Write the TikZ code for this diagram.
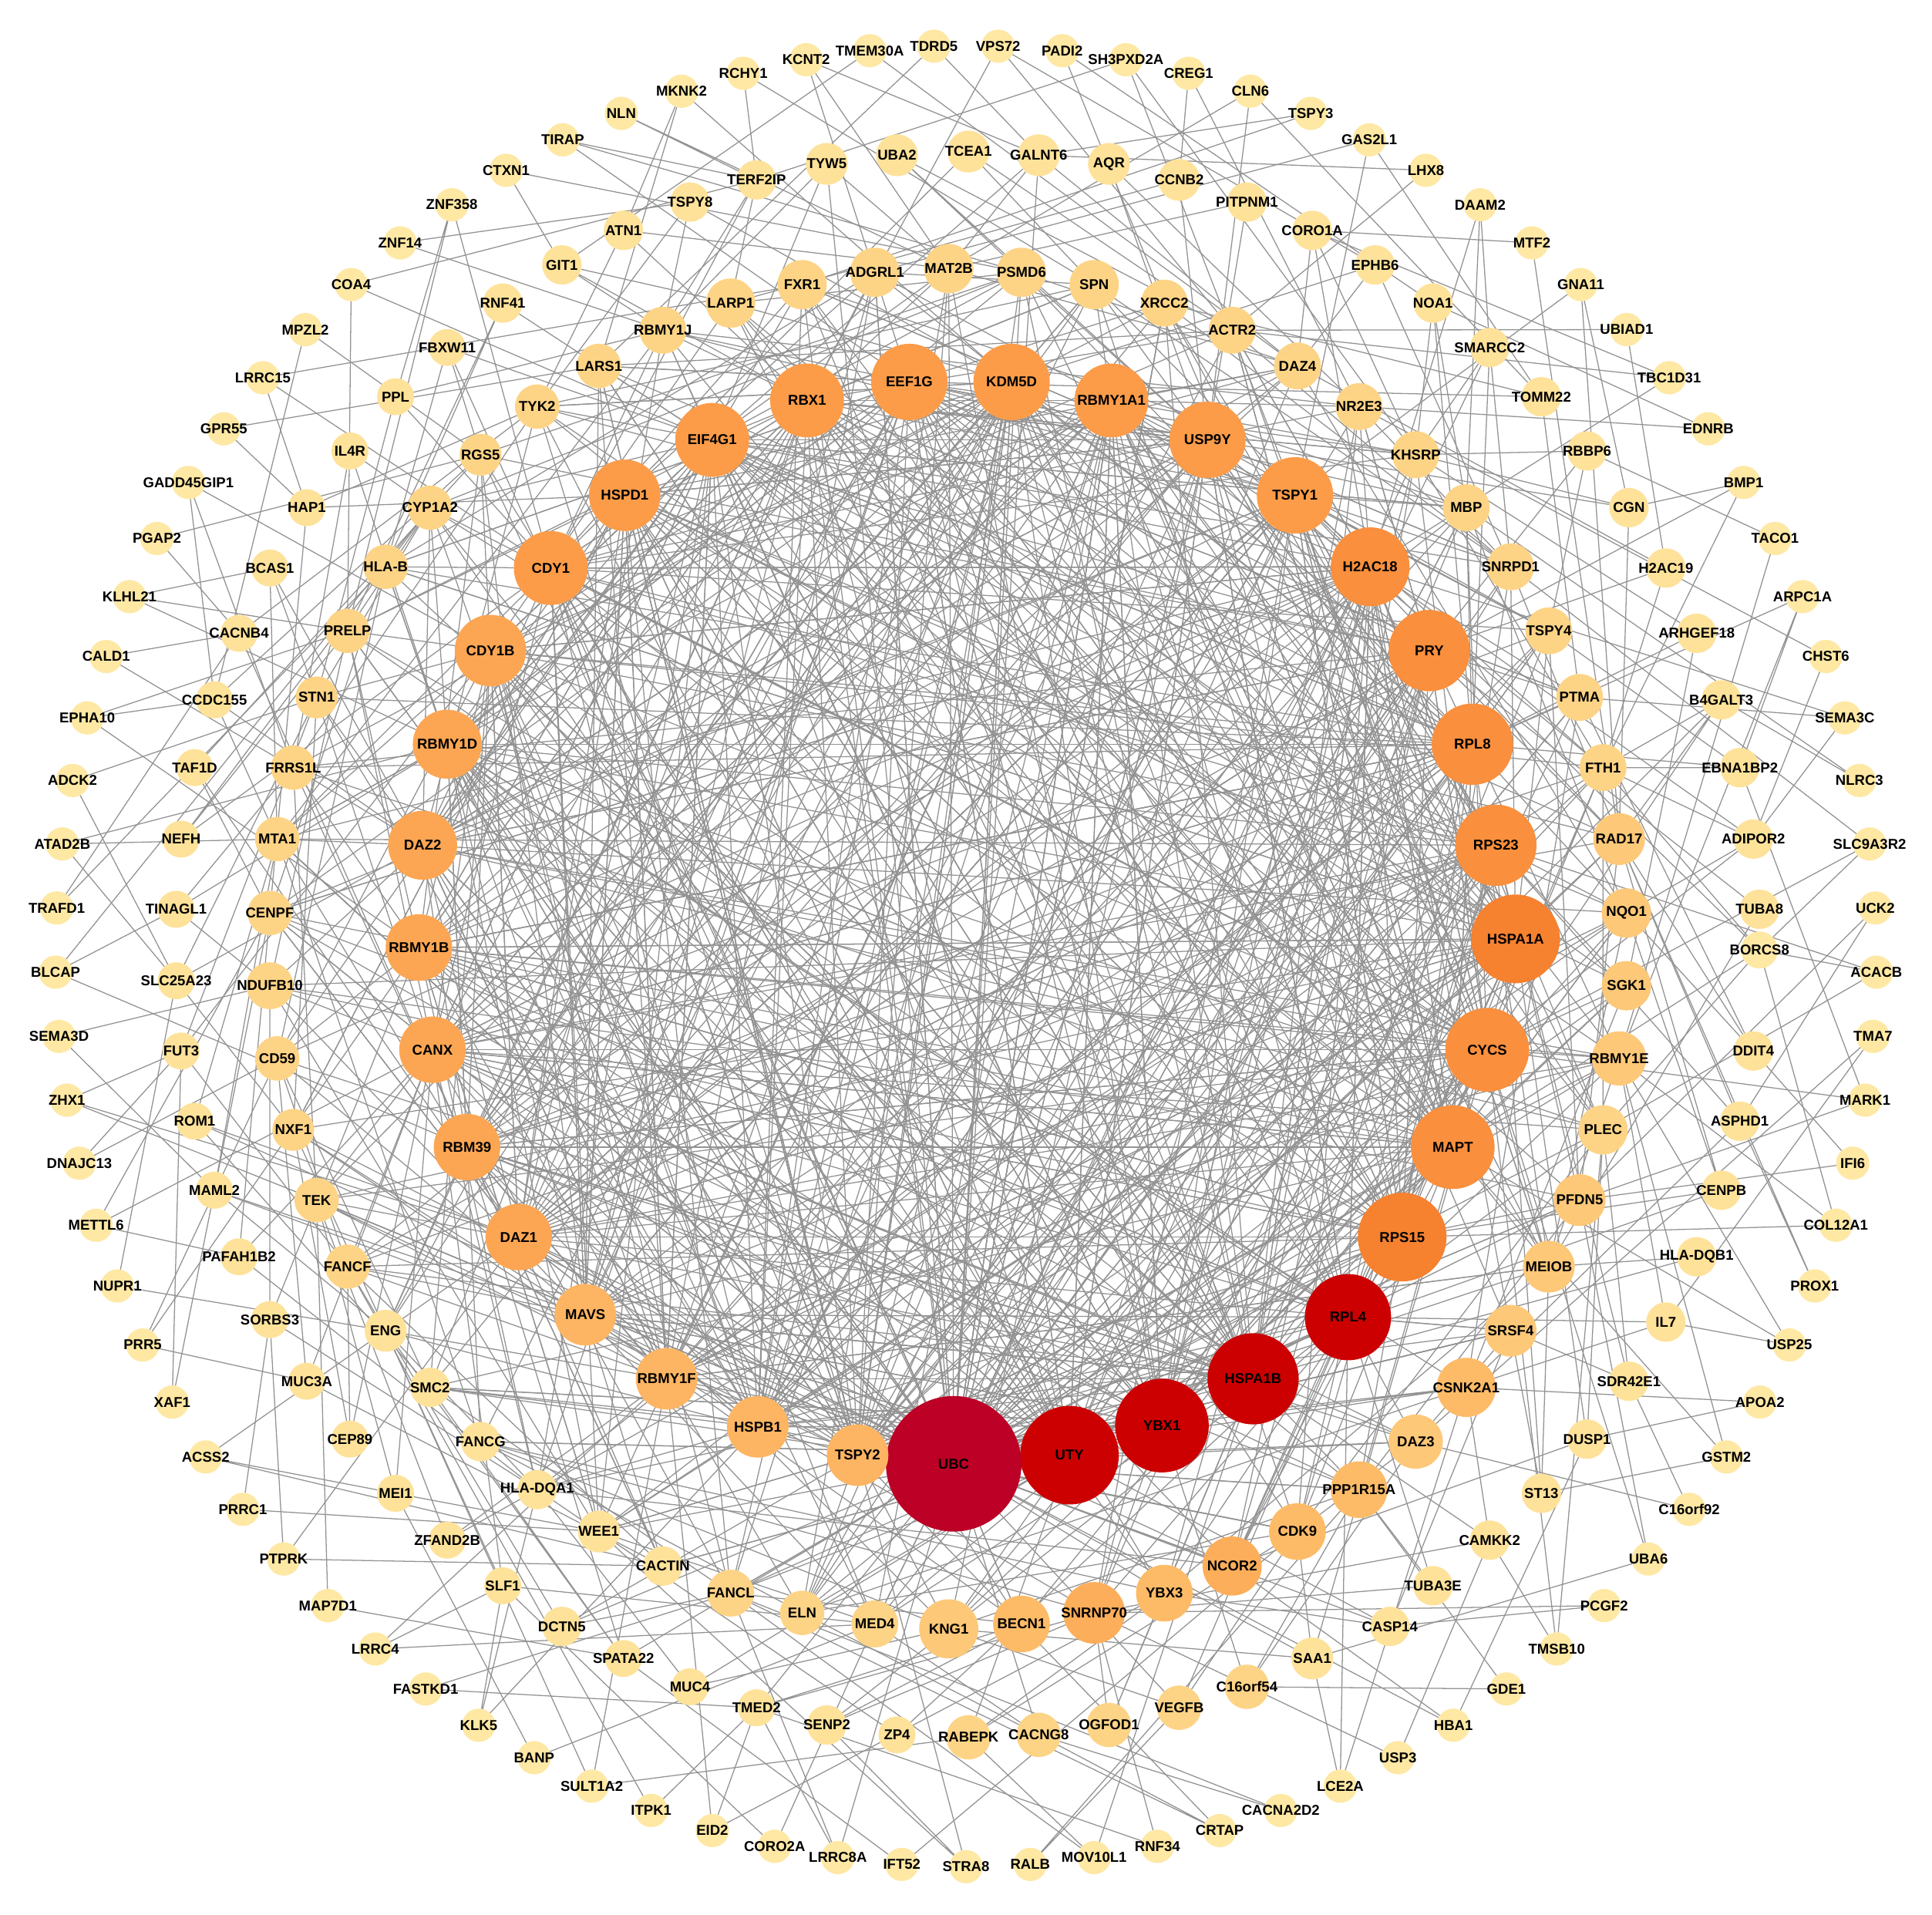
\documentclass[tikz,border=0pt]{standalone}
\usepackage{fontspec}
\setmainfont{Liberation Sans}
\pgfdeclarelayer{back}
\pgfdeclarelayer{bg}
\pgfsetlayers{back,bg,main}
\definecolor{cO}{HTML}{FEE8A4}
\definecolor{cS}{HTML}{FEE29A}
\definecolor{cT}{HTML}{FDD486}
\definecolor{cT2}{HTML}{FDC878}
\definecolor{cT3}{HTML}{FDBB68}
\definecolor{cT4}{HTML}{FDAE5A}
\definecolor{cI1}{HTML}{FDB563}
\definecolor{cI2}{HTML}{FCA653}
\definecolor{cI3}{HTML}{FC9C49}
\definecolor{cI4}{HTML}{FA8F3D}
\definecolor{cI5}{HTML}{F6812F}
\definecolor{cR}{HTML}{CC0000}
\definecolor{cU}{HTML}{BC0026}
\definecolor{edgec}{HTML}{939393}
\newcommand\labfont{\fontsize{5.8pt}{6pt}\selectfont\bfseries}
\tikzset{
  nd/.style={circle, inner sep=0pt, outer sep=0pt, text=black, font=\labfont},
  onode/.style={nd, fill=cO, minimum size=13.5pt},
  lnk/.style={draw=edgec, line width=0.4pt},
}
\begin{document}
\begin{tikzpicture}[x=0.5pt,y=-0.5pt]
\useasboundingbox (0,0) rectangle (1568,1554);
\begin{pgfonlayer}{back}
\fill[white] (0,0) rectangle (1568,1554);
\end{pgfonlayer}
% outer ring
\foreach \lab [count=\k from 0] in {TDRD5,VPS72,PADI2,SH3PXD2A,CREG1,CLN6,TSPY3,GAS2L1,LHX8,DAAM2,MTF2,GNA11,UBIAD1,TBC1D31,EDNRB,BMP1,TACO1,ARPC1A,CHST6,SEMA3C,NLRC3,SLC9A3R2,UCK2,ACACB,TMA7,MARK1,IFI6,COL12A1,PROX1,USP25,APOA2,GSTM2,C16orf92,UBA6,PCGF2,TMSB10,GDE1,HBA1,USP3,LCE2A,CACNA2D2,CRTAP,RNF34,MOV10L1,RALB,STRA8,IFT52,LRRC8A,CORO2A,EID2,ITPK1,SULT1A2,BANP,KLK5,FASTKD1,LRRC4,MAP7D1,PTPRK,PRRC1,ACSS2,XAF1,PRR5,NUPR1,METTL6,DNAJC13,ZHX1,SEMA3D,BLCAP,TRAFD1,ATAD2B,ADCK2,EPHA10,CALD1,KLHL21,PGAP2,GADD45GIP1,GPR55,LRRC15,MPZL2,COA4,ZNF14,ZNF358,CTXN1,TIRAP,NLN,MKNK2,RCHY1,KCNT2,TMEM30A}{
  \pgfmathsetmacro\ang{(\k-0.5)*4.044944}
  \node[onode] (o\k) at ({784+739*sin(\ang)},{776-739*cos(\ang)}) {\makebox[0pt]{\lab}};
}
% second ring
\foreach \lab/\x/\y/\r/\cc [count=\k from 0] in {TCEA1/786/123/17/cS,GALNT6/843/126/17/cS,AQR/900/133/17/cS,CCNB2/957/146/17/cS,PITPNM1/1012/164/16/cS,CORO1A/1065/187/16/cS,EPHB6/1116/215/16/cS,NOA1/1163/246/16/cS,SMARCC2/1209/282/16/cS,TOMM22/1251/322/16/cS,RBBP6/1288/366/16/cS,CGN/1322/412/16/cS,H2AC19/1352/461/16/cS,ARHGEF18/1377/514/16/cS,B4GALT3/1397/568/16/cS,EBNA1BP2/1412/623/16/cS,ADIPOR2/1423/681/16/cS,TUBA8/1428/738/16/cS,BORCS8/1428/771/15/cO,DDIT4/1423/853/16/cS,ASPHD1/1412/910/16/cS,CENPB/1397/966/16/cS,HLA-DQB1/1377/1020/16/cS,IL7/1352/1073/16/cS,SDR42E1/1322/1121/16/cS,DUSP1/1288/1168/16/cS,ST13/1251/1212/16/cS,CAMKK2/1209/1250/16/cS,TUBA3E/1163/1287/16/cS,CASP14/1128/1320/16/cS,SAA1/1065/1346/17/cS,C16orf54/1012/1369/18/cT,VEGFB/957/1386/18/cT,OGFOD1/900/1400/18/cT,CACNG8/843/1408/18/cT,RABEPK/786/1410/18/cT,ZP4/728/1408/15/cS,SENP2/671/1400/16/cS,TMED2/614/1386/15/cS,MUC4/560/1369/15/cS,SPATA22/506/1346/15/cS,DCTN5/456/1320/16/cS,SLF1/408/1287/15/cS,ZFAND2B/363/1250/15/cS,MEI1/321/1212/15/cS,CEP89/284/1168/15/cS,MUC3A/249/1121/15/cS,SORBS3/219/1071/15/cS,PAFAH1B2/194/1020/15/cS,MAML2/174/966/15/cS,ROM1/158/910/15/cS,FUT3/147/853/15/cS,SLC25A23/143/796/15/cS,TINAGL1/143/738/15/cS,NEFH/147/681/15/cS,TAF1D/158/623/15/cS,CCDC155/174/568/15/cS,CACNB4/194/514/15/cS,BCAS1/219/461/15/cS,HAP1/249/412/15/cS,IL4R/284/366/15/cS,PPL/321/322/15/cS,FBXW11/363/282/15/cS,RNF41/408/246/16/cS,GIT1/456/215/16/cS,ATN1/506/187/16/cS,TSPY8/560/164/16/cS,TERF2IP/614/146/16/cS,TYW5/671/133/17/cS,UBA2/728/126/17/cS}{
  \node[nd, fill=\cc, minimum size={\r*1pt}] (s\k) at (\x,\y) {\makebox[0pt]{\lab}};
}
% third ring
\foreach \lab/\x/\y/\r/\cc [count=\k from 0] in {MAT2B/770/218/20/cT,PSMD6/829/221/20/cT,SPN/888/231/20/cT,XRCC2/945/246/19/cT,ACTR2/1000/268/19/cT,DAZ4/1053/297/19/cT,NR2E3/1103/330/19/cT,KHSRP/1149/369/19/cT,MBP/1190/412/19/cT,SNRPD1/1226/460/19/cT,TSPY4/1257/512/19/cT,PTMA/1282/566/19/cT,FTH1/1301/623/19/cT,RAD17/1314/681/21/cT2,NQO1/1320/741/20/cT2,SGK1/1320/800/20/cT2,RBMY1E/1314/859/22/cT2,PLEC/1301/917/20/cT,PFDN5/1282/974/21/cT2,MEIOB/1257/1028/21/cT2,SRSF4/1226/1080/21/cT2,CSNK2A1/1190/1126/24/cT3,DAZ3/1149/1170/22/cT2,PPP1R15A/1103/1209/23/cT3,CDK9/1053/1243/23/cT3,NCOR2/1000/1271/24/cT4,YBX3/945/1293/23/cT3,SNRNP70/888/1309/25/cT4,BECN1/829/1318/23/cT3,KNG1/770/1322/24/cT2,MED4/710/1318/19/cT,ELN/651/1309/18/cT,FANCL/593/1293/19/cT,CACTIN/538/1271/16/cS,WEE1/486/1243/17/cS,HLA-DQA1/436/1209/16/cS,FANCG/390/1170/16/cS,SMC2/349/1126/16/cS,ENG/313/1080/17/cS,FANCF/282/1028/18/cT,TEK/257/974/18/cT,NXF1/238/917/17/cT,CD59/225/859/18/cT,NDUFB10/219/800/19/cT,CENPF/219/741/18/cT,MTA1/225/681/18/cT,FRRS1L/238/623/18/cT,STN1/257/566/17/cT,PRELP/282/512/18/cT,HLA-B/313/460/18/cT,CYP1A2/349/412/18/cT,RGS5/390/369/17/cT,TYK2/436/330/18/cT,LARS1/486/297/18/cT,RBMY1J/538/268/19/cT,LARP1/593/246/20/cT,FXR1/651/231/20/cT,ADGRL1/710/221/20/cT}{
  \node[nd, fill=\cc, minimum size={\r*1pt}] (t\k) at (\x,\y) {\makebox[0pt]{\lab}};
}
% inner ring
\foreach \lab/\x/\y/\r/\cc [count=\k from 0] in {EEF1G/738/310/31/cI3,KDM5D/821/310/31/cI3,RBMY1A1/902/325/30/cI3,USP9Y/980/357/31/cI3,TSPY1/1051/402/31/cI3,H2AC18/1112/460/32/cI4,PRY/1160/528/33/cI4,RPL8/1195/604/33/cI4,RPS23/1214/686/33/cI4,HSPA1A/1230/762/36/cI5,CYCS/1207/852/34/cI4,MAPT/1179/931/34/cI4,RPS15/1138/1004/36/cI5,RPL4/1094/1069/35/cR,HSPA1B/1017/1119/37/cR,YBX1/943/1157/38/cR,UTY/868/1181/40/cR,UBC/774/1188/55/cU,TSPY2/696/1181/25/cI1,HSPB1/615/1158/25/cI1,RBMY1F/541/1119/25/cI1,MAVS/475/1067/25/cI1,DAZ1/421/1004/27/cI2,RBM39/379/931/27/cI2,CANX/351/852/27/cI2,RBMY1B/340/769/27/cI2,DAZ2/343/686/28/cI2,RBMY1D/363/604/28/cI2,CDY1B/398/528/29/cI2,CDY1/447/461/30/cI3,HSPD1/507/402/29/cI3,EIF4G1/578/357/30/cI3,RBX1/655/325/30/cI3}{
  \node[nd, fill=\cc, minimum size={\r*1pt}] (i\k) at (\x,\y) {\makebox[0pt]{\lab}};
}
% connectors
\begin{pgfonlayer}{bg}
\pgfmathsetseed{12345}
\foreach \k in {0,...,88}{
  \pgfmathtruncatemacro\ea{mod(round(\k*70/89)+random(0,10)-5+70,70)}
  \pgfmathtruncatemacro\eb{mod(round(\k*58/89)+random(0,12)-6+58,58)}
  \draw[lnk] (o\k) -- (s\ea) (o\k) -- (t\eb);
  \ifodd\k
    \pgfmathtruncatemacro\ec{mod(round(\k*33/89)+random(0,6)-3+33,33)}
    \draw[lnk] (o\k) -- (i\ec);
  \fi
}
\foreach \k in {0,...,69}{
  \pgfmathtruncatemacro\ea{mod(round(\k*58/70)+random(0,10)-5+58,58)}
  \pgfmathtruncatemacro\eb{mod(round(\k*58/70)+random(0,10)-5+58,58)}
  \pgfmathtruncatemacro\ec{mod(round(\k*33/70)+random(0,8)-4+33,33)}
  \draw[lnk] (s\k) -- (t\ea) (s\k) -- (t\eb) (s\k) -- (i\ec);
}
\foreach \k in {0,...,57}{
  \pgfmathtruncatemacro\ea{random(0,32)}
  \pgfmathtruncatemacro\eb{random(0,32)}
  \pgfmathtruncatemacro\ef{random(0,32)}
  \pgfmathtruncatemacro\ec{mod(round(\k*33/58)+random(0,6)-3+33,33)}
  \pgfmathtruncatemacro\ed{mod(\k+random(2,10),58)}
  \draw[lnk] (t\k) -- (i\ea) (t\k) -- (i\eb) (t\k) -- (i\ef) (t\k) -- (i\ec) (t\k) -- (t\ed);
}
\foreach \k in {0,...,32}{
  \foreach \m in {1,...,14}{
    \pgfmathtruncatemacro\ea{mod(\k+random(3,30),33)}
    \draw[lnk] (i\k) -- (i\ea);
  }
  \foreach \m in {1,...,6}{
    \pgfmathtruncatemacro\ea{random(0,57)}
    \draw[lnk] (i\k) -- (t\ea);
  }
}
\foreach \m in {1,...,45}{
  \pgfmathtruncatemacro\ea{random(0,57)}
  \draw[lnk] (i17) -- (t\ea);
}
\foreach \m in {1,...,15}{
  \pgfmathtruncatemacro\ea{random(0,69)}
  \draw[lnk] (i17) -- (s\ea);
}
\end{pgfonlayer}
\end{tikzpicture}
\end{document}
